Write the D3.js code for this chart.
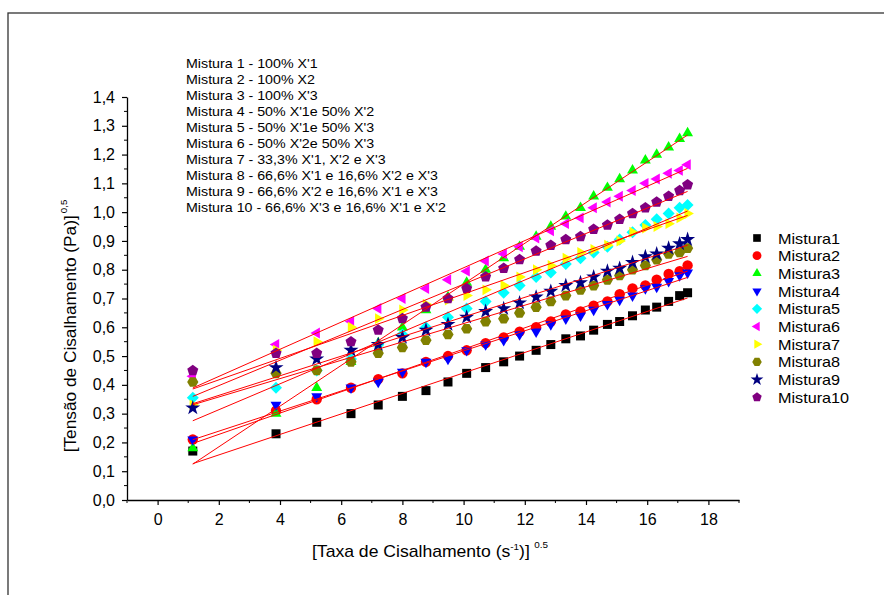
<!DOCTYPE html>
<html>
<head>
<meta charset="utf-8">
<script src="https://cdn.jsdelivr.net/npm/d3@7"></script>
<style>
  body { margin: 0; background: #fff; }
  svg { display: block; font-family: Arial, "Liberation Sans", sans-serif; }
</style>
</head>
<body>
<svg id="chart" width="884" height="595"></svg>
<script>
// shear rate ^0.5, one value per measured point
var taxa = [1.15, 3.87, 5.2, 6.32, 7.21, 8.0, 8.77, 9.49, 10.1, 10.72, 11.31, 11.83, 12.37,
            12.85, 13.34, 13.82, 14.25, 14.7, 15.1, 15.52, 15.94, 16.31, 16.7, 17.06, 17.32];

// shear stress ^0.5 per mixture
var mistura1 = [0.17, 0.23, 0.27, 0.30, 0.33, 0.36, 0.38, 0.41, 0.44, 0.46, 0.48, 0.50, 0.52,
                0.54, 0.56, 0.57, 0.59, 0.61, 0.62, 0.64, 0.66, 0.67, 0.69, 0.71, 0.72];
var mistura2 = [0.21, 0.31, 0.35, 0.39, 0.42, 0.44, 0.48, 0.50, 0.52, 0.545, 0.565, 0.585, 0.60,
                0.62, 0.645, 0.655, 0.675, 0.69, 0.715, 0.735, 0.745, 0.765, 0.785, 0.795, 0.815];
var mistura3 = [0.18, 0.30, 0.39, 0.48, 0.545, 0.60, 0.66, 0.705, 0.755, 0.80, 0.84, 0.88, 0.915,
                0.95, 0.985, 1.015, 1.055, 1.085, 1.115, 1.145, 1.18, 1.20, 1.225, 1.255, 1.275];
var mistura4 = [0.21, 0.33, 0.36, 0.39, 0.41, 0.445, 0.48, 0.49, 0.52, 0.54, 0.555, 0.575, 0.585,
                0.61, 0.63, 0.64, 0.66, 0.68, 0.695, 0.71, 0.735, 0.74, 0.76, 0.78, 0.79];
var mistura5 = [0.355, 0.39, 0.45, 0.49, 0.54, 0.575, 0.60, 0.635, 0.665, 0.69, 0.72, 0.745, 0.775,
                0.79, 0.82, 0.84, 0.86, 0.88, 0.905, 0.93, 0.955, 0.975, 0.995, 1.015, 1.025];
var mistura6 = [0.43, 0.54, 0.58, 0.62, 0.665, 0.70, 0.735, 0.765, 0.795, 0.83, 0.855, 0.88, 0.91,
                0.935, 0.96, 0.98, 1.015, 1.035, 1.055, 1.075, 1.10, 1.115, 1.135, 1.145, 1.165];
var mistura7 = [0.33, 0.52, 0.55, 0.60, 0.63, 0.66, 0.68, 0.695, 0.71, 0.73, 0.745, 0.775, 0.80,
                0.815, 0.84, 0.86, 0.87, 0.885, 0.90, 0.93, 0.945, 0.95, 0.96, 0.98, 0.995];
var mistura8 = [0.41, 0.44, 0.45, 0.48, 0.51, 0.53, 0.555, 0.575, 0.595, 0.62, 0.63, 0.65, 0.67,
                0.69, 0.71, 0.73, 0.745, 0.765, 0.78, 0.80, 0.815, 0.835, 0.855, 0.86, 0.875];
var mistura9 = [0.32, 0.46, 0.49, 0.52, 0.54, 0.565, 0.59, 0.61, 0.635, 0.655, 0.665, 0.685, 0.705,
                0.725, 0.745, 0.755, 0.775, 0.795, 0.805, 0.825, 0.845, 0.855, 0.875, 0.89, 0.905];
var mistura10 = [0.45, 0.51, 0.51, 0.55, 0.59, 0.63, 0.67, 0.70, 0.735, 0.775, 0.805, 0.835, 0.865,
                 0.885, 0.905, 0.915, 0.94, 0.955, 0.975, 0.995, 1.015, 1.035, 1.055, 1.075, 1.095];

var nomes = ["Mistura1","Mistura2","Mistura3","Mistura4","Mistura5",
             "Mistura6","Mistura7","Mistura8","Mistura9","Mistura10"];
var cores = ["#000000","#ff0000","#00ff00","#0000ff","#00ffff",
             "#ff00ff","#ffff00","#808000","#000080","#800080"];
var formas = ["square","circle","up","down","diamond","left","right","hexagon","star","pentagon"];

var notas = ["Mistura 1 - 100% X'1",
             "Mistura 2 - 100% X2",
             "Mistura 3 - 100% X'3",
             "Mistura 4 - 50% X'1e 50% X'2",
             "Mistura 5 - 50% X'1e 50% X'3",
             "Mistura 6 - 50% X'2e 50% X'3",
             "Mistura 7 - 33,3% X'1, X'2 e X'3",
             "Mistura 8 - 66,6% X'1 e 16,6% X'2 e X'3",
             "Mistura 9 - 66,6% X'2 e 16,6% X'1 e X'3",
             "Mistura 10 - 66,6% X'3 e 16,6% X'1 e X'2"];

var xTicks = [0, 2, 4, 6, 8, 10, 12, 14, 16, 18];
var xMinor = [-1, 1, 3, 5, 7, 9, 11, 13, 15, 17, 19];
var yTicks = [0, 0.1, 0.2, 0.3, 0.4, 0.5, 0.6, 0.7, 0.8, 0.9, 1.0, 1.1, 1.2, 1.3, 1.4];
var yMinor = [0.05, 0.15, 0.25, 0.35, 0.45, 0.55, 0.65, 0.75, 0.85, 0.95, 1.05, 1.15, 1.25, 1.35];

var series = [mistura1, mistura2, mistura3, mistura4, mistura5,
              mistura6, mistura7, mistura8, mistura9, mistura10];

var svg = d3.select("#chart");

// outer frame of the figure (runs off the right/bottom)
svg.append("rect")
  .attr("x", 8).attr("y", 13).attr("width", 900).attr("height", 600)
  .attr("fill", "none").attr("stroke", "#333").attr("stroke-width", 1.3);

var x = d3.scaleLinear().domain([-1, 19]).range([127, 739]);
var y = d3.scaleLinear().domain([0, 1.4]).range([500, 97]);

var virg = d => d3.format(".1f")(d).replace(".", ",");

// axes
var gx = svg.append("g").attr("transform", "translate(0,500)")
  .call(d3.axisBottom(x).tickValues(xTicks).tickSize(5).tickPadding(9).tickSizeOuter(0));
gx.append("g").selectAll("line").data(xMinor).join("line")
  .attr("x1", d => x(d)).attr("x2", d => x(d)).attr("y1", 0).attr("y2", 3)
  .attr("stroke", "#000");

var gy = svg.append("g").attr("transform", "translate(127,0)")
  .call(d3.axisLeft(y).tickValues(yTicks).tickFormat(virg).tickSize(5).tickPadding(7).tickSizeOuter(0));
gy.append("g").selectAll("line").data(yMinor).join("line")
  .attr("y1", d => y(d)).attr("y2", d => y(d)).attr("x1", 0).attr("x2", -3)
  .attr("stroke", "#000");

[gx, gy].forEach(function(g) {
  g.select(".domain").attr("stroke", "#000").attr("stroke-width", 1.3);
  g.selectAll(".tick line").attr("stroke", "#000").attr("stroke-width", 1.2);
  g.selectAll(".tick text").attr("font-size", 16).attr("fill", "#000")
    .attr("font-family", "Arial, 'Liberation Sans', sans-serif");
});

// axis titles (the original export is a little wider than the font, hence the stretch)
var tx = svg.append("g").attr("transform", "translate(430,557) scale(1.1,1)")
  .append("text").attr("text-anchor", "middle").attr("font-size", 16);
tx.append("tspan").text("[Taxa de Cisalhamento (s");
tx.append("tspan").attr("dy", -7).attr("font-size", 9).text("-1");
tx.append("tspan").attr("dy", 7).text(")]");
tx.append("tspan").attr("dy", -9).attr("dx", 4).attr("font-size", 9).text("0.5");

var ty = svg.append("g").attr("transform", "translate(76,326) rotate(-90) scale(1.08,1)")
  .append("text").attr("text-anchor", "middle").attr("font-size", 16);
ty.append("tspan").text("[Tensão de Cisalhamento (Pa)]");
ty.append("tspan").attr("dy", -9).attr("dx", 2).attr("font-size", 9).text("0,5");

// marker shapes
function poly(n, r, rot) {
  var p = [];
  for (var i = 0; i < n; i++) {
    var a = rot + i * 2 * Math.PI / n;
    p.push([r * Math.cos(a), r * Math.sin(a)]);
  }
  return "M" + p.map(q => q[0].toFixed(2) + "," + q[1].toFixed(2)).join("L") + "Z";
}
function marca(f) {
  switch (f) {
    case "square": return "M-4.5,-4.5H4.5V4.5H-4.5Z";
    case "circle": return d3.symbol(d3.symbolCircle, 85)();
    case "up": return poly(3, 6.3, -Math.PI / 2);
    case "down": return poly(3, 6.3, Math.PI / 2);
    case "diamond": return poly(4, 6, 0);
    case "left": return poly(3, 6.3, Math.PI);
    case "right": return poly(3, 6.3, 0);
    case "hexagon": return poly(6, 5.6, 0);
    case "star": return d3.symbol(d3.symbolStar, 70)();
    case "pentagon": return poly(5, 5.8, -Math.PI / 2);
  }
}

// points, mixture 1 first so later ones sit on top
series.forEach(function(s, k) {
  svg.append("g").selectAll("path").data(s).join("path")
    .attr("d", marca(formas[k]))
    .attr("transform", (d, i) => "translate(" + x(taxa[i]) + "," + y(d) + ")")
    .attr("fill", cores[k]);
});

// linear fits in red, drawn over the points
function ajuste(xs, ys) {
  var mx = d3.mean(xs), my = d3.mean(ys);
  var sxy = d3.sum(xs, (v, i) => (v - mx) * (ys[i] - my));
  var sxx = d3.sum(xs, v => (v - mx) * (v - mx));
  var b = sxy / sxx;
  return [b, my - b * mx];
}
var x0 = taxa[0], x1 = taxa[taxa.length - 1];
series.forEach(function(s) {
  var f = ajuste(taxa, s);
  svg.append("line")
    .attr("x1", x(x0)).attr("y1", y(f[1] + f[0] * x0))
    .attr("x2", x(x1)).attr("y2", y(f[1] + f[0] * x1))
    .attr("stroke", "#ff0000").attr("stroke-width", 1);
});

// notes on the composition of each mixture
svg.append("g").attr("transform", "translate(186,0) scale(1.14,1)")
  .selectAll("text").data(notas).join("text")
  .attr("x", 0).attr("y", (d, i) => 68 + i * 16)
  .attr("font-size", 12.5).text(d => d);

// legend
var leg = svg.append("g").selectAll("g").data(nomes).join("g")
  .attr("transform", (d, i) => "translate(757," + (238 + i * 17.7) + ")");
leg.append("path").attr("d", (d, i) => marca(formas[i]))
  .attr("fill", (d, i) => cores[i]).attr("transform", "scale(0.85)");
leg.append("g").attr("transform", "translate(21,5.5) scale(1.08,1)")
  .append("text").attr("font-size", 15).text(d => d);
</script>
</body>
</html>
